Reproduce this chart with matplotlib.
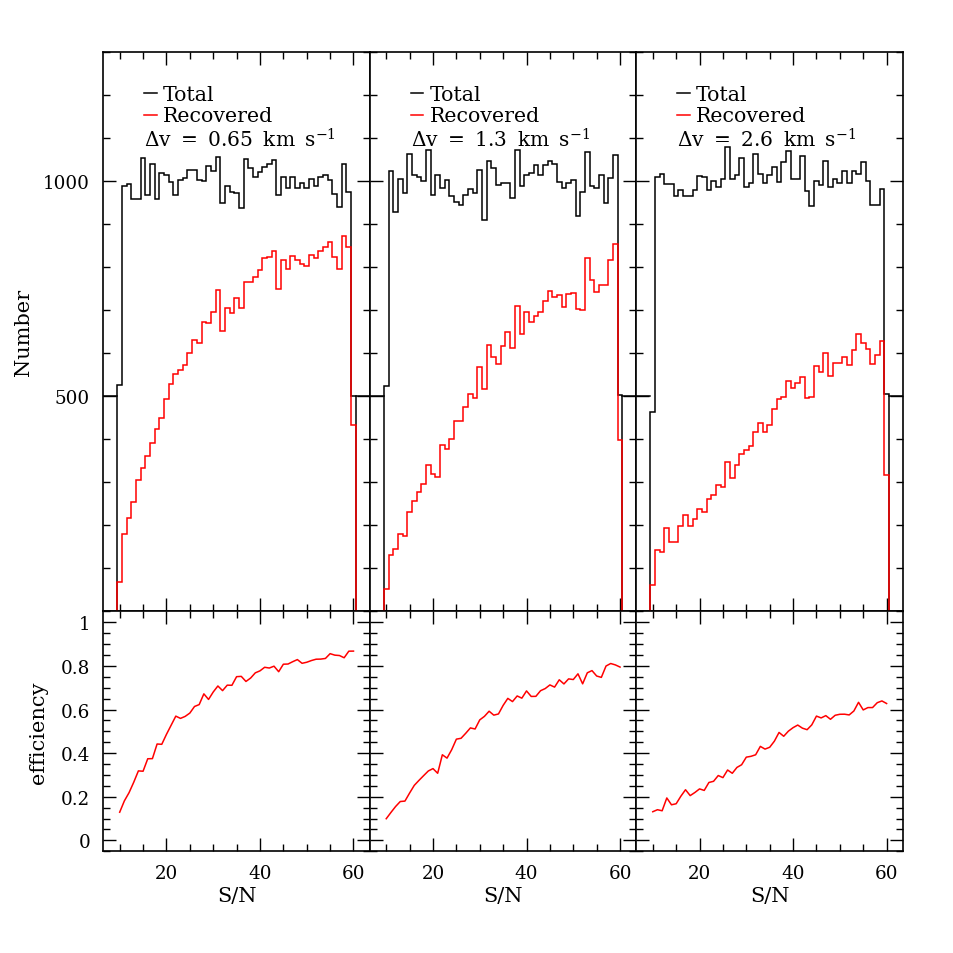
import numpy as np
import matplotlib
matplotlib.use("Agg")
import matplotlib.pyplot as plt
from matplotlib.ticker import MultipleLocator, FixedLocator, FormatStrFormatter

plt.rcParams['font.family'] = ['DejaVu Serif', 'DejaVu Sans']
plt.rcParams['mathtext.fontset'] = 'dejavuserif'

# ---------------- data ----------------
sn_centers = np.arange(10, 61)          # S/N bin centres (bin width 1)

total_065 = [526, 988, 992, 957, 957, 1053, 967, 1040, 957, 1019,
             1014, 998, 967, 1001, 1006, 1026, 1026, 1002, 1000, 1035,
             1023, 1055, 948, 989, 973, 971, 936, 1051, 1029, 1010,
             1020, 1033, 1040, 1049, 967, 1010, 983, 1008, 983, 995,
             983, 1004, 987, 1008, 1014, 1002, 970, 939, 1040, 975,
             500]
recovered_065 = [68, 179, 217, 255, 305, 334, 362, 390, 423, 449,
                 493, 527, 551, 560, 572, 599, 630, 624, 672, 669,
                 696, 747, 651, 704, 692, 729, 704, 766, 766, 776,
                 793, 820, 822, 838, 748, 816, 795, 826, 815, 808,
                 803, 828, 820, 838, 846, 858, 824, 796, 871, 846,
                 434]

total_13 = [523, 1023, 927, 1004, 971, 1063, 1014, 1010, 1000, 1071,
            966, 1014, 983, 1002, 964, 952, 944, 967, 981, 971,
            1026, 909, 1045, 1029, 990, 995, 995, 960, 1072, 989,
            1014, 1018, 1037, 1014, 1037, 1045, 1040, 998, 984, 995,
            1002, 919, 975, 1067, 989, 983, 1014, 948, 1006, 1060,
            502]
recovered_13 = [52, 131, 144, 179, 175, 231, 256, 278, 297, 341,
                318, 312, 386, 378, 401, 442, 442, 475, 506, 496,
                567, 517, 619, 591, 574, 616, 648, 611, 710, 645,
                695, 672, 685, 696, 722, 745, 731, 735, 706, 737,
                739, 702, 700, 820, 770, 741, 758, 758, 816, 853,
                399]

total_26 = [464, 1009, 1016, 992, 992, 964, 978, 964, 964, 979,
            1012, 1008, 979, 1000, 985, 1004, 1078, 1004, 1013, 1052,
            985, 996, 1062, 1016, 996, 1014, 1031, 998, 1043, 1070,
            1004, 1004, 1057, 977, 942, 1000, 990, 1047, 985, 1004,
            996, 1023, 996, 1023, 1017, 1043, 1000, 944, 944, 982,
            505]
recovered_26 = [61, 142, 138, 193, 162, 162, 198, 224, 198, 215,
                239, 231, 260, 271, 293, 289, 348, 309, 339, 365,
                376, 384, 417, 438, 417, 433, 469, 494, 498, 536,
                519, 531, 544, 496, 499, 570, 556, 599, 547, 576,
                576, 592, 573, 607, 644, 624, 609, 575, 596, 628,
                317]

sp = " \u2009"
panel_labels = ["\u0394v" + sp + "=" + sp + "0.65" + sp + "km" + sp + "s$^{-1}$",
                "\u0394v" + sp + "=" + sp + "1.3" + sp + "km" + sp + "s$^{-1}$",
                "\u0394v" + sp + "=" + sp + "2.6" + sp + "km" + sp + "s$^{-1}$"]
totals = [total_065, total_13, total_26]
recovereds = [recovered_065, recovered_13, recovered_26]
edge_level = 500

# ---------------- figure ----------------
fig = plt.figure(figsize=(9.54, 9.54), dpi=100)
gs = fig.add_gridspec(2, 3, left=0.1083, right=0.9465, top=0.9448, bottom=0.1066,
                      wspace=0, hspace=0, height_ratios=[7, 3])

xlim = (6.5, 63.5)
edges = np.append(sn_centers - 0.5, sn_centers[-1] + 0.5)
lw = 1.1
tick_kw = dict(direction='in', top=True, right=True, width=1.0)

for j in range(3):
    tot = np.array(totals[j], dtype=float)
    rec = np.array(recovereds[j], dtype=float)

    ax = fig.add_subplot(gs[0, j])
    axb = fig.add_subplot(gs[1, j])

    # --- histograms ---
    ax.stairs(tot, edges, baseline=0, color='black', lw=lw, zorder=2)
    ax.stairs(rec, edges, baseline=0, color='red', lw=lw, zorder=3)
    ax.plot([xlim[0], edges[0]], [edge_level, edge_level], color='black', lw=lw)
    ax.plot([edges[-1], xlim[1]], [edge_level, edge_level], color='black', lw=lw)
    ax.set_xlim(*xlim)
    ax.set_ylim(0, 1300)

    # legend-like annotations
    ax.plot([0.153, 0.200], [0.9256, 0.9256], color='black', lw=lw, transform=ax.transAxes)
    ax.plot([0.153, 0.200], [0.886, 0.886], color='red', lw=lw, transform=ax.transAxes)
    ax.text(0.224, 0.914, "Total", transform=ax.transAxes, fontsize=14.8, va='baseline')
    ax.text(0.224, 0.8766, "Recovered", transform=ax.transAxes, fontsize=14.8, va='baseline')
    ax.text(0.153, 0.830, panel_labels[j], transform=ax.transAxes, fontsize=14.5, va='baseline')

    ax.yaxis.set_major_locator(FixedLocator([500, 1000]))
    ax.yaxis.set_minor_locator(MultipleLocator(100))
    ax.xaxis.set_major_locator(MultipleLocator(20))
    ax.xaxis.set_minor_locator(MultipleLocator(5))
    ax.tick_params(which='major', length=9.5, labelsize=13.2, pad=9.5, **tick_kw)
    ax.tick_params(which='minor', length=5, **tick_kw)
    ax.tick_params(labelbottom=False)

    # --- efficiency ---
    axb.plot(sn_centers, rec / tot, color='red', lw=1.1)
    axb.set_xlim(*xlim)
    axb.set_ylim(-0.05, 1.05)
    axb.yaxis.set_major_locator(MultipleLocator(0.2))
    axb.yaxis.set_minor_locator(MultipleLocator(0.05))
    axb.yaxis.set_major_formatter(FormatStrFormatter('%g'))
    axb.xaxis.set_major_locator(MultipleLocator(20))
    axb.xaxis.set_minor_locator(MultipleLocator(5))
    axb.tick_params(which='major', length=9.5, labelsize=13.2, pad=9.5, **tick_kw)
    axb.tick_params(which='minor', length=5, **tick_kw)
    axb.set_xlabel("S/N", fontsize=15)
    axb.xaxis.set_label_coords(0.5, -0.145)

    for a in (ax, axb):
        for s in a.spines.values():
            s.set_linewidth(1.2)

    if j == 0:
        ax.set_ylabel("Number", fontsize=15)
        ax.yaxis.set_label_coords(-0.264, 0.5)
        axb.set_ylabel("efficiency", fontsize=15)
        axb.yaxis.set_label_coords(-0.206, 0.5)
    else:
        ax.tick_params(labelleft=False)
        axb.tick_params(labelleft=False)

fig.savefig("out.png", dpi=100)
